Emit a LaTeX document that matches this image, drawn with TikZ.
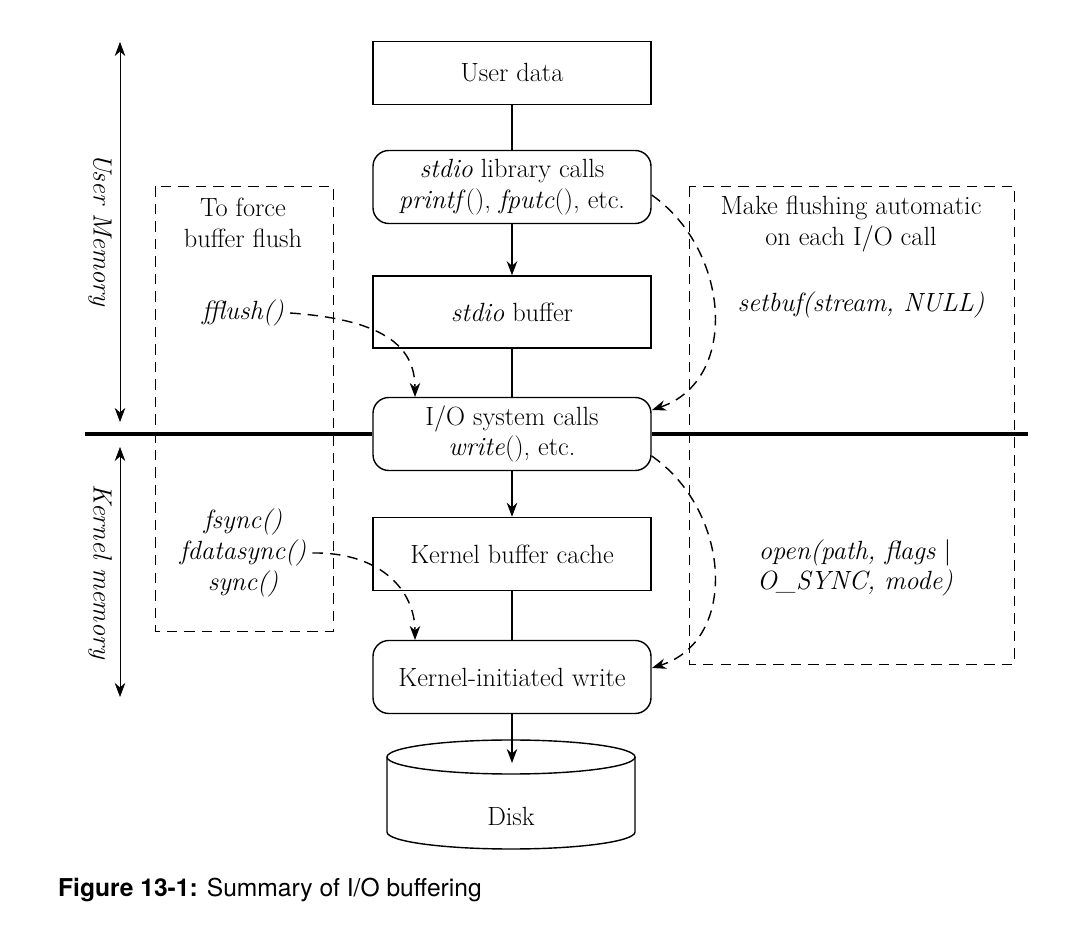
\documentclass[tikz,border=0pt]{standalone}
\usepackage{fontspec}
\newfontfamily\capfont{TeX Gyre Heros}
\usetikzlibrary{arrows.meta}
\tikzset{
  box/.style={draw,thick,minimum width=278\pxu,minimum height=63\pxu,align=center,font=\fontsize{15}{17.5}\selectfont},
  rbox/.style={box,rounded corners=9pt,minimum height=73\pxu},
  note/.style={align=center,font=\fontsize{15}{17.5}\selectfont},
  flush/.style={thick,dashed,dash pattern=on 6pt off 4pt,-{Stealth[length=8pt]}},
}
\newlength\pxu \setlength\pxu{0.02cm}
\begin{document}
\begin{tikzpicture}[x=0.02cm,y=-0.02cm,>={Stealth[length=8pt]}]
\useasboundingbox (0,0) rectangle (1080,932);
% main column
\node[box]  (user)   at (512,73)  {User data};
\node[rbox] (stdio)  at (512,187) {\textit{stdio} library calls\\\textit{printf}(), \textit{fputc}(), etc.};
\node[box,minimum height=72\pxu]  (buf)    at (512,312) {\textit{stdio} buffer};
\node[rbox] (sys)    at (512,434) {I/O system calls\\\textit{write}(), etc.};
\node[box,minimum height=73\pxu]  (cache)  at (512,554) {Kernel buffer cache};
\node[rbox] (kwrite) at (512,677) {Kernel-initiated write};
\draw[thick] (user) -- (stdio);
\draw[thick,->] (stdio) -- (buf);
\draw[thick] (buf) -- (sys);
\draw[thick,->] (sys) -- (cache);
\draw[thick] (cache) -- (kwrite);
% disk
\draw[thick] (387,757) -- (387,832) arc[start angle=180,end angle=360,x radius=124,y radius=-17] -- (635,757);
\draw[thick] (511,757) ellipse[x radius=124,y radius=17];
\node[note] (disk) at (511,816) {Disk};
\coordinate (disktop) at (512,763);
\draw[thick,->] (kwrite.south) -- (disktop);
% user/kernel split
\draw[line width=2pt] (85,434) -- (sys.west);
\draw[line width=2pt] (sys.east) -- (1028,434);
\coordinate (um1) at (120,42);
\coordinate (um2) at (120,422);
\coordinate (km1) at (120,447);
\coordinate (km2) at (120,697);
\draw[<->] (um1) -- (um2);
\draw[<->] (km1) -- (km2);
\node[note,rotate=-90] (umem) at (100,230) {\textit{User Memory}};
\node[note,rotate=-90] (kmem) at (100,572) {\textit{Kernel memory}};
% left dashed box
\draw[dashed,dash pattern=on 6pt off 4pt] (155,186) rectangle (333,631);
\node[note] (force) at (243,223) {To force\\buffer flush};
\node[note] (fflush) at (243,313) {\textit{fflush()}};
\node[note] (fsync) at (243,553) {\textit{fsync()}\\\textit{fdatasync()}\\\textit{sync()}};
% right dashed box
\draw[dashed,dash pattern=on 6pt off 4pt] (689,186) rectangle (1014,664);
\node[note] (auto) at (851,224) {Make flushing automatic\\on each I/O call};
\node[note] (setbuf) at (861,305) {\textit{setbuf(stream, NULL)}};
\node[note] (open) at (855,568) {\textit{open(path, flags} |\\\textit{O\_SYNC, mode)}};
% flushing paths
\draw[flush] (fflush.east) .. controls (390,320) and (415,350) .. (415,397);
\draw[flush] (fsync.east) .. controls (380,552) and (415,590) .. (415,640);
\draw[flush] (stdio.east) ++(0,8) .. controls (730,250) and (740,380) .. (652,410);
\draw[flush] (sys.east) ++(0,22) .. controls (730,510) and (740,640) .. (652,668);
% caption
\node[anchor=west,font=\capfont\fontsize{14}{17}\selectfont] (cap) at (52,890) {\textbf{Figure 13-1:} Summary of I/O buffering};
\end{tikzpicture}
\end{document}
